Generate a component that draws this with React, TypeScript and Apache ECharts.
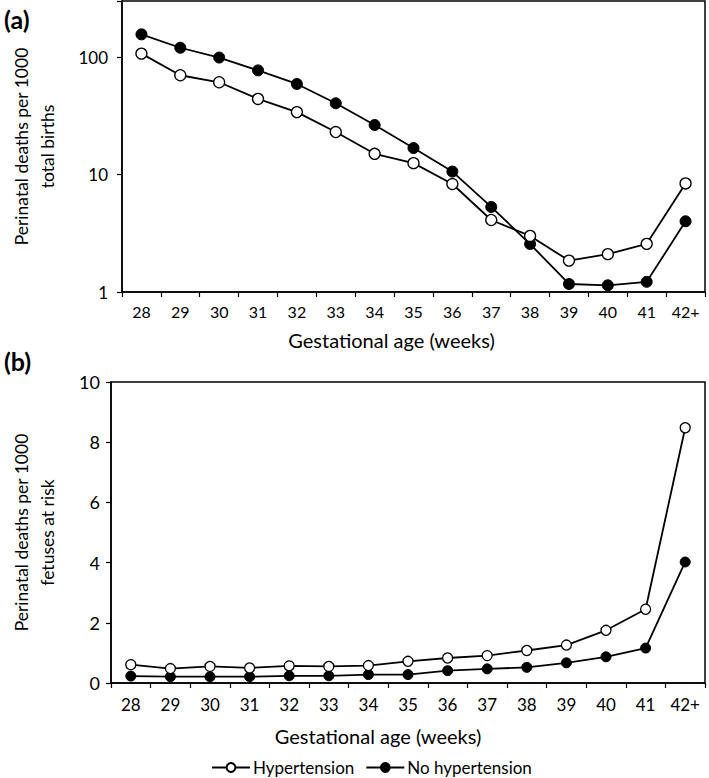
import React, { useEffect, useRef } from "react";
import * as echarts from "echarts";

const categories = ["28", "29", "30", "31", "32", "33", "34", "35", "36", "37", "38", "39", "40", "41", "42+"];
const hypertensionA = [107, 70, 61, 44, 34, 23, 15, 12.5, 8.3, 4.1, 3.0, 1.85, 2.1, 2.57, 8.4];
const noHypertensionA = [156, 120, 99, 77, 59, 40.4, 26.4, 16.8, 10.6, 5.3, 2.56, 1.17, 1.14, 1.22, 4.0];
const hypertensionB = [0.61, 0.48, 0.55, 0.5, 0.57, 0.55, 0.58, 0.72, 0.83, 0.91, 1.08, 1.26, 1.75, 2.45, 8.48];
const noHypertensionB = [0.23, 0.21, 0.21, 0.21, 0.24, 0.24, 0.28, 0.28, 0.41, 0.47, 0.52, 0.67, 0.87, 1.16, 4.02];
const logTickLabels = [1, 10, 100];
const seriesNames = ["Hypertension", "No hypertension"];
const axisTitleX = "Gestational age (weeks)";
const axisTitleA = "Perinatal deaths per 1000\ntotal births";
const axisTitleB = "Perinatal deaths per 1000\nfetuses at risk";

const FONT = "Lato";
const INK = "#000";

export default function App() {
  const ref = useRef<HTMLDivElement>(null);
  useEffect(() => {
    if (!ref.current) return;
    const chart = echarts.init(ref.current, undefined, { renderer: "svg" });
    const xAxisBase = (gridIndex: number, margin: number, nameGap: number, fs: number, shift: number) => ({
      type: "category" as const,
      gridIndex,
      data: categories,
      boundaryGap: true,
      name: axisTitleX,
      nameLocation: "middle" as const,
      nameGap,
      nameTextStyle: { fontFamily: FONT, fontSize: 20, color: INK, padding: [0, shift, 0, 0] },
      axisLine: { lineStyle: { color: INK, width: 1.5 } },
      axisTick: { show: true, length: 5, lineStyle: { color: INK, width: 1.2 } },
      axisLabel: { fontFamily: FONT, fontSize: fs, color: INK, margin, interval: 0 },
      splitLine: { show: false },
    });
    const openSymbol = { color: "#fff", borderColor: INK, borderWidth: 1.3 };
    const filledSymbol = { color: INK, borderColor: INK, borderWidth: 1 };
    const lineStyle = { color: INK, width: 1.8 };
    chart.setOption({
      animation: false,
      backgroundColor: "#fff",
      textStyle: { fontFamily: FONT },
      grid: [
        { left: 101, right: 4, top: 1, height: 291, show: true, borderColor: INK, borderWidth: 1.5, containLabel: false },
        { left: 89, right: 4, top: 382, height: 301, show: true, borderColor: INK, borderWidth: 1.5, containLabel: false },
      ],
      legend: {
        data: seriesNames.map((n) => ({ name: n })),
        left: 211,
        top: 759,
        padding: 0,
        itemWidth: 38,
        itemHeight: 11,
        itemGap: 11,
        textStyle: { fontFamily: FONT, fontSize: 17, color: INK, padding: [0, 0, 0, -2] },
      },
      graphic: [
        { type: "text", left: 4, top: 6, style: { text: "(a)", fontFamily: FONT, fontSize: 25, fontWeight: "bold", fill: INK } },
        { type: "text", left: 4, top: 348, style: { text: "(b)", fontFamily: FONT, fontSize: 25, fontWeight: "bold", fill: INK } },
      ],
      xAxis: [xAxisBase(0, 11, 38, 16, 44), xAxisBase(1, 13, 43, 17, 60)],
      yAxis: [
        {
          type: "log",
          gridIndex: 0,
          logBase: 10,
          min: 1,
          max: 300,
          name: axisTitleA,
          nameLocation: "middle",
          nameGap: 62,
          nameTextStyle: { fontFamily: FONT, fontSize: 17.5, color: INK, lineHeight: 26 },
          axisLine: { show: true, lineStyle: { color: INK, width: 1.5 } },
          axisTick: { show: true, length: 5, lineStyle: { color: INK, width: 1.2 } },
          axisLabel: {
            fontFamily: FONT,
            fontSize: 17,
            color: INK,
            margin: 14,
            formatter: (v: number) => (logTickLabels.some((t) => Math.abs(t - v) < 1e-6 * t) ? String(Math.round(v)) : ""),
          },
          splitLine: { show: false },
          minorTick: { show: false },
        },
        {
          type: "value",
          gridIndex: 1,
          min: 0,
          max: 10,
          interval: 2,
          name: axisTitleB,
          nameLocation: "middle",
          nameGap: 51,
          nameTextStyle: { fontFamily: FONT, fontSize: 17.5, color: INK, lineHeight: 26 },
          axisLine: { show: true, lineStyle: { color: INK, width: 1.5 } },
          axisTick: { show: true, length: 5, lineStyle: { color: INK, width: 1.2 } },
          axisLabel: { fontFamily: FONT, fontSize: 18, color: INK, margin: 11 },
          splitLine: { show: false },
        },
      ],
      series: [
        {
          name: seriesNames[0], type: "line", xAxisIndex: 0, yAxisIndex: 0, data: hypertensionA,
          symbol: "circle", symbolSize: 11, showAllSymbol: true, lineStyle, itemStyle: openSymbol, z: 3,
        },
        {
          name: seriesNames[1], type: "line", xAxisIndex: 0, yAxisIndex: 0, data: noHypertensionA,
          symbol: "circle", symbolSize: 11, showAllSymbol: true, lineStyle, itemStyle: filledSymbol, z: 2,
        },
        {
          name: seriesNames[0], type: "line", xAxisIndex: 1, yAxisIndex: 1, data: hypertensionB,
          symbol: "circle", symbolSize: 10, showAllSymbol: true, lineStyle, itemStyle: openSymbol, z: 3,
        },
        {
          name: seriesNames[1], type: "line", xAxisIndex: 1, yAxisIndex: 1, data: noHypertensionB,
          symbol: "circle", symbolSize: 10, showAllSymbol: true, lineStyle, itemStyle: filledSymbol, z: 2,
        },
      ],
    });
    return () => chart.dispose();
  }, []);
  return <div ref={ref} style={{ position: "fixed", left: 0, top: 0, width: 709, height: 778 }} />;
}
